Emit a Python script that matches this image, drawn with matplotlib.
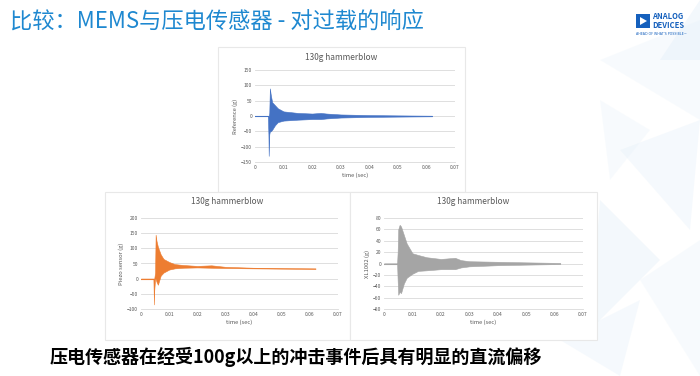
import matplotlib
matplotlib.use("Agg")
from matplotlib import pyplot as plt
from matplotlib.patches import Rectangle, Polygon
import numpy as np

plt.rcParams['font.family'] = ['Noto Sans CJK SC', 'DejaVu Sans']

W, H = 700, 376

slide_title = "比较：MEMS与压电传感器 - 对过载的响应"
footer_text = "压电传感器在经受100g以上的冲击事件后具有明显的直流偏移"
chart_title = "130g hammerblow"
x_label = "time (sec)"
x_ticks = [0, 0.01, 0.02, 0.03, 0.04, 0.05, 0.06, 0.07]
x_tick_labels = ["0", "0.01", "0.02", "0.03", "0.04", "0.05", "0.06", "0.07"]

# envelope of the dense vibration traces
ref_t = [0.0, 0.0045, 0.0047, 0.0048, 0.0050, 0.0052, 0.0055, 0.006, 0.007, 0.008,
         0.010, 0.015, 0.020, 0.023, 0.025, 0.030, 0.040, 0.050, 0.062]
ref_hi = [0, 0, 0, 0, 10, 90, 70, 45, 35, 25, 15, 10, 8, 10, 8, 5, 3, 2, 1]
ref_lo = [0, 0, -60, -130, -60, -50, -50, -45, -30, -20, -15, -12, -10, -10, -8, -5, -3, -2, -1]

piezo_t = [0.0, 0.0044, 0.0046, 0.0047, 0.0050, 0.0052, 0.0055, 0.006, 0.007, 0.008,
           0.010, 0.012, 0.015, 0.020, 0.025, 0.030, 0.040, 0.050, 0.062]
piezo_hi = [0, 0, 0, 0, 20, 145, 125, 105, 80, 65, 55, 48, 45, 42, 44, 39, 36, 35, 34]
piezo_lo = [0, 0, -85, -40, 0, 0, -10, -20, 10, 20, 30, 34, 36, 37, 36, 35, 34, 33, 32]

xl_t = [0.0, 0.0046, 0.0048, 0.0050, 0.0055, 0.006, 0.007, 0.008, 0.010, 0.012,
        0.015, 0.020, 0.025, 0.027, 0.030, 0.040, 0.050, 0.062]
xl_hi = [0, 0, 20, 60, 68, 65, 50, 35, 18, 15, 11, 8, 10, 6, 4, 3, 2, 1]
xl_lo = [0, 0, -30, -55, -50, -52, -35, -25, -18, -13, -12, -10, -10, -7, -5, -3, -2, -1]

charts = [
    # (frame px, axes px, t, hi, lo, colour, ylabel, yticks)
    ((218, 47, 465, 192), (255, 70, 455, 162), ref_t, ref_hi, ref_lo, "#4472C4",
     "Reference (g)", list(range(-150, 151, 50))),
    ((105, 192, 350, 340), (141, 218, 338, 309), piezo_t, piezo_hi, piezo_lo, "#ED7D31",
     "Piezo sensor (g)", list(range(-100, 201, 50))),
    ((350, 192, 597, 340), (384, 218, 583, 309), xl_t, xl_hi, xl_lo, "#A5A5A5",
     "XL1002 (g)", list(range(-80, 81, 20))),
]


def fig_rect(l, t, r, b):
    return [l / W, 1 - b / H, (r - l) / W, (b - t) / H]


fig = plt.figure(figsize=(W / 100, H / 100), dpi=100)
fig.patch.set_facecolor("white")

# pale triangle mosaic on the right of the slide
bg = fig.add_axes([0, 0, 1, 1])
bg.set_xlim(0, W)
bg.set_ylim(H, 0)
bg.axis("off")
tris = [
    [(600, 60), (700, 20), (700, 120)],
    [(620, 150), (700, 120), (690, 230)],
    [(600, 200), (660, 260), (590, 330)],
    [(640, 280), (700, 240), (700, 376)],
    [(560, 340), (640, 300), (620, 376)],
    [(660, 60), (700, 0), (700, 60)],
    [(600, 100), (650, 130), (610, 180)],
]
for i, tr in enumerate(tris):
    bg.add_patch(Polygon(tr, closed=True, color="#e3eff9", alpha=0.25 + 0.08 * (i % 3), lw=0))

bg.text(10, 21, slide_title, fontsize=16, color="#1e88d0", va="center", ha="left")
bg.text(50, 357, footer_text, fontsize=13, fontweight="bold", color="black",
        va="center", ha="left")

# logo
bg.add_patch(Rectangle((636, 14), 14, 14, color="#1560bd", lw=0))
bg.add_patch(Polygon([(640, 17), (640, 25), (647, 21)], closed=True, color="white", lw=0))
bg.text(652, 16.5, "ANALOG", fontsize=5.5, fontweight="bold", color="#1560bd", va="center")
bg.text(652, 25, "DEVICES", fontsize=5.5, fontweight="bold", color="#1560bd", va="center")
bg.text(636, 34, "AHEAD OF WHAT'S POSSIBLE™", fontsize=2.3, color="#1560bd", va="center",
        family=["DejaVu Sans"])

for frame, box, t, hi, lo, col, ylab, yt in charts:
    bg.add_patch(Rectangle((frame[0], frame[1]), frame[2] - frame[0], frame[3] - frame[1],
                           fill=True, facecolor="white", edgecolor="#e8e8e8", lw=0.8))
    bg.text((frame[0] + frame[2]) / 2, frame[1] + 10, chart_title, fontsize=6,
            color="#595959", ha="center", va="center")

    ax = fig.add_axes(fig_rect(*box))
    ax.set_facecolor("none")
    # quiet stretch before the impact
    ax.plot(t[:2], hi[:2], color=col, lw=0.8, zorder=2)
    ax.fill_between(t, lo, hi, color=col, lw=0.4, edgecolor=col, zorder=3)
    ax.set_xlim(0, 0.07)
    ax.set_ylim(yt[0], yt[-1])
    ax.set_xticks(x_ticks)
    ax.set_xticklabels(x_tick_labels)
    ax.set_yticks(yt)
    ax.grid(axis="y", color="#d9d9d9", lw=0.6)
    ax.set_axisbelow(True)
    for s in ["top", "right", "left"]:
        ax.spines[s].set_visible(False)
    ax.spines["bottom"].set_color("#d9d9d9")
    ax.spines["bottom"].set_linewidth(0.6)
    ax.tick_params(length=0, labelsize=3.6, colors="#595959", pad=2)
    ax.set_xlabel(x_label, fontsize=4.2, color="#595959", labelpad=2)
    ax.set_ylabel(ylab, fontsize=4.2, color="#595959", labelpad=2)

fig.savefig("out.png", dpi=100)
